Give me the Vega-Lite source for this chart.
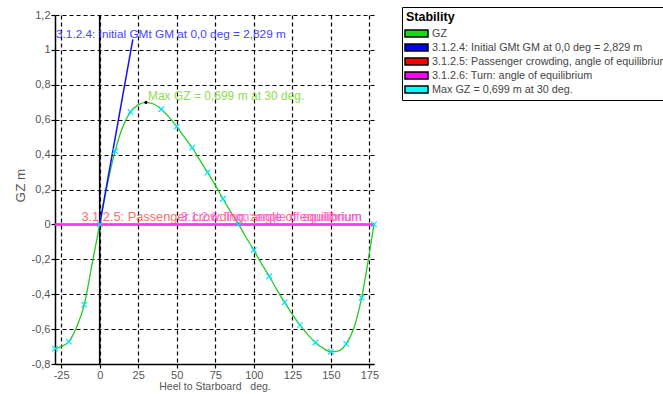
{
  "$schema": "https://vega.github.io/schema/vega-lite/v6.json",
  "width": 319,
  "height": 349,
  "autosize": "none",
  "padding": {"left": 55, "top": 15, "right": 289, "bottom": 30},
  "background": "white",
  "config": {"font": "Liberation Sans", "view": {"stroke": null}},
  "datasets": {
    "gz": [
      {"deg": -29, "gz": -0.712}, {"deg": -25, "gz": -0.7}, {"deg": -20, "gz": -0.672},
      {"deg": -15, "gz": -0.59}, {"deg": -10, "gz": -0.46}, {"deg": -5, "gz": -0.23},
      {"deg": 0, "gz": 0}, {"deg": 5, "gz": 0.23}, {"deg": 10, "gz": 0.42},
      {"deg": 15, "gz": 0.56}, {"deg": 20, "gz": 0.645}, {"deg": 25, "gz": 0.685},
      {"deg": 30, "gz": 0.699}, {"deg": 35, "gz": 0.69}, {"deg": 40, "gz": 0.66},
      {"deg": 45, "gz": 0.615}, {"deg": 50, "gz": 0.56}, {"deg": 55, "gz": 0.5},
      {"deg": 60, "gz": 0.44}, {"deg": 65, "gz": 0.368}, {"deg": 70, "gz": 0.298},
      {"deg": 75, "gz": 0.225}, {"deg": 80, "gz": 0.147}, {"deg": 85, "gz": 0.072},
      {"deg": 90, "gz": 0.003}, {"deg": 95, "gz": -0.075}, {"deg": 100, "gz": -0.147},
      {"deg": 105, "gz": -0.225}, {"deg": 110, "gz": -0.297}, {"deg": 115, "gz": -0.375},
      {"deg": 120, "gz": -0.447}, {"deg": 125, "gz": -0.515}, {"deg": 130, "gz": -0.577},
      {"deg": 135, "gz": -0.632}, {"deg": 140, "gz": -0.677}, {"deg": 145, "gz": -0.71},
      {"deg": 150, "gz": -0.73}, {"deg": 155, "gz": -0.725}, {"deg": 160, "gz": -0.685},
      {"deg": 165, "gz": -0.592}, {"deg": 170, "gz": -0.42}, {"deg": 175, "gz": -0.165},
      {"deg": 178, "gz": 0}
    ],
    "markers": [
      {"deg": -29, "gz": -0.712}, {"deg": -20, "gz": -0.672}, {"deg": -10, "gz": -0.46},
      {"deg": 0, "gz": 0}, {"deg": 10, "gz": 0.42}, {"deg": 20, "gz": 0.645},
      {"deg": 40, "gz": 0.66}, {"deg": 50, "gz": 0.56}, {"deg": 60, "gz": 0.44},
      {"deg": 70, "gz": 0.298}, {"deg": 80, "gz": 0.147}, {"deg": 90, "gz": 0.003},
      {"deg": 100, "gz": -0.147}, {"deg": 110, "gz": -0.297}, {"deg": 120, "gz": -0.447},
      {"deg": 130, "gz": -0.577}, {"deg": 140, "gz": -0.677}, {"deg": 150, "gz": -0.73},
      {"deg": 160, "gz": -0.685}, {"deg": 170, "gz": -0.42}, {"deg": 178, "gz": 0}
    ],
    "peak": [{"deg": 30, "gz": 0.699}],
    "gm": [{"deg": 0, "gz": 0}, {"deg": 21.5, "gz": 1.06}],
    "zero": [{"gz": 0}],
    "vert": [{"deg": 0}],
    "lblGM": [{"deg": -29, "gz": 1.09, "text": "3.1.2.4: Initial GMt GM at 0,0 deg = 2,829 m"}],
    "lblMax": [{"deg": 30, "gz": 0.735, "text": "Max GZ = 0,699 m at 30 deg."}],
    "lblPass": [{"deg": 170, "gz": 0.04, "text": "3.1.2.5: Passenger crowding, angle of equilibrium"}],
    "lblTurn": [{"deg": 170, "gz": 0.04, "text": "3.1.2.6: Turn: angle of equilibrium"}],
    "legend": [
      {"series": "GZ"},
      {"series": "3.1.2.4: Initial GMt GM at 0,0 deg = 2,829 m"},
      {"series": "3.1.2.5: Passenger crowding, angle of equilibrium"},
      {"series": "3.1.2.6: Turn: angle of equilibrium"},
      {"series": "Max GZ = 0,699 m at 30 deg."}
    ]
  },
  "layer": [
    {
      "data": {"name": "vert"},
      "mark": {"type": "rule", "color": "black", "strokeWidth": 1.6},
      "encoding": {"x": {"field": "deg", "type": "quantitative", "scale": {"domain": [-29, 178], "nice": false, "zero": false}}}
    },
    {
      "data": {"name": "zero"},
      "mark": {"type": "rule", "color": "#ff0000", "strokeWidth": 2},
      "encoding": {"y": {"field": "gz", "type": "quantitative", "scale": {"domain": [-0.8, 1.2], "nice": false, "zero": false}}}
    },
    {
      "data": {"name": "zero"},
      "mark": {"type": "rule", "color": "#ff33ff", "strokeWidth": 2},
      "encoding": {"y": {"field": "gz", "type": "quantitative", "scale": {"domain": [-0.8, 1.2], "nice": false, "zero": false}}}
    },
    {
      "data": {"name": "gz"},
      "mark": {"type": "line", "color": "#22cc22", "strokeWidth": 1.3, "interpolate": "monotone"},
      "encoding": {
        "x": {"field": "deg", "type": "quantitative",
          "scale": {"domain": [-29, 178], "nice": false, "zero": false},
          "axis": {"title": "Heel to Starboard \u00a0 deg.", "values": [-25, 0, 25, 50, 75, 100, 125, 150, 175],
            "tickCount": 50, "labelExpr": "'' + datum.value", "labelOverlap": false,
            "grid": true, "gridColor": "black", "gridDash": [4, 3], "gridWidth": 1.2, "gridOpacity": 1,
            "domainColor": "black", "domainWidth": 1.5, "tickColor": "black", "tickSize": 4, "tickWidth": 1.2,
            "labelFontSize": 11, "labelColor": "#555", "labelPadding": 1, "labelFlush": false,
            "titleFontSize": 10.5, "titleFontWeight": "normal", "titleColor": "#555", "titlePadding": 1}},
        "y": {"field": "gz", "type": "quantitative",
          "scale": {"domain": [-0.8, 1.2], "nice": false, "zero": false},
          "axis": {"title": "GZ m", "values": [-0.8, -0.6, -0.4, -0.2, 0, 0.2, 0.4, 0.6, 0.8, 1, 1.2],
            "tickCount": 50, "labelExpr": "replace('' + datum.value, '.', ',')", "labelOverlap": false,
            "grid": true, "gridColor": "black", "gridDash": [4, 3], "gridWidth": 1.2, "gridOpacity": 1,
            "domainColor": "black", "domainWidth": 1.5, "tickColor": "black", "tickSize": 4, "tickWidth": 1.2,
            "labelFontSize": 11, "labelColor": "#555", "labelPadding": 1, "labelFlush": false,
            "titleFontSize": 13.5, "titleFontWeight": "normal", "titleColor": "#555",
            "titleX": -28, "titleY": 170}}
      }
    },
    {
      "data": {"name": "gm"},
      "mark": {"type": "line", "color": "#1010ff", "strokeWidth": 1.5},
      "encoding": {
        "x": {"field": "deg", "type": "quantitative", "scale": {"domain": [-29, 178], "nice": false, "zero": false}},
        "y": {"field": "gz", "type": "quantitative", "scale": {"domain": [-0.8, 1.2], "nice": false, "zero": false}}
      }
    },
    {
      "data": {"name": "markers"},
      "mark": {"type": "point", "shape": "M-1,-1L1,1M-1,1L1,-1", "filled": false, "stroke": "#00e0ff", "strokeWidth": 1.2, "size": 30, "opacity": 1},
      "encoding": {
        "x": {"field": "deg", "type": "quantitative", "scale": {"domain": [-29, 178], "nice": false, "zero": false}},
        "y": {"field": "gz", "type": "quantitative", "scale": {"domain": [-0.8, 1.2], "nice": false, "zero": false}}
      }
    },
    {
      "data": {"name": "peak"},
      "mark": {"type": "point", "shape": "circle", "filled": true, "color": "black", "size": 10, "opacity": 1},
      "encoding": {
        "x": {"field": "deg", "type": "quantitative", "scale": {"domain": [-29, 178], "nice": false, "zero": false}},
        "y": {"field": "gz", "type": "quantitative", "scale": {"domain": [-0.8, 1.2], "nice": false, "zero": false}}
      }
    },
    {
      "data": {"name": "lblGM"},
      "mark": {"type": "text", "align": "left", "baseline": "middle", "dx": 1, "fontSize": 11.8, "color": "#4444ff"},
      "encoding": {
        "x": {"field": "deg", "type": "quantitative", "scale": {"domain": [-29, 178], "nice": false, "zero": false}},
        "y": {"field": "gz", "type": "quantitative", "scale": {"domain": [-0.8, 1.2], "nice": false, "zero": false}},
        "text": {"field": "text"}
      }
    },
    {
      "data": {"name": "lblMax"},
      "mark": {"type": "text", "align": "left", "baseline": "middle", "dx": 2, "fontSize": 12, "color": "#8fdc50"},
      "encoding": {
        "x": {"field": "deg", "type": "quantitative", "scale": {"domain": [-29, 178], "nice": false, "zero": false}},
        "y": {"field": "gz", "type": "quantitative", "scale": {"domain": [-0.8, 1.2], "nice": false, "zero": false}},
        "text": {"field": "text"}
      }
    },
    {
      "data": {"name": "lblPass"},
      "mark": {"type": "text", "align": "right", "baseline": "middle", "fontSize": 12.8, "color": "#ff5a5a", "opacity": 0.9},
      "encoding": {
        "x": {"field": "deg", "type": "quantitative", "scale": {"domain": [-29, 178], "nice": false, "zero": false}},
        "y": {"field": "gz", "type": "quantitative", "scale": {"domain": [-0.8, 1.2], "nice": false, "zero": false}},
        "text": {"field": "text"}
      }
    },
    {
      "data": {"name": "lblTurn"},
      "mark": {"type": "text", "align": "right", "baseline": "middle", "fontSize": 12.2, "color": "#ff4dff", "opacity": 0.85},
      "encoding": {
        "x": {"field": "deg", "type": "quantitative", "scale": {"domain": [-29, 178], "nice": false, "zero": false}},
        "y": {"field": "gz", "type": "quantitative", "scale": {"domain": [-0.8, 1.2], "nice": false, "zero": false}},
        "text": {"field": "text"}
      }
    },
    {
      "data": {"name": "legend"},
      "transform": [{"filter": "false"}],
      "mark": {"type": "square", "filled": true, "opacity": 1},
      "encoding": {
        "fill": {"field": "series", "type": "nominal",
          "scale": {"domain": ["GZ", "3.1.2.4: Initial GMt GM at 0,0 deg = 2,829 m", "3.1.2.5: Passenger crowding, angle of equilibrium", "3.1.2.6: Turn: angle of equilibrium", "Max GZ = 0,699 m at 30 deg."],
            "range": ["#11dd11", "#0000ff", "#ff0000", "#ff00ff", "#00ffff"]},
          "legend": {"title": "Stability", "orient": "none", "legendX": 347, "legendY": -8,
            "titleFontSize": 12.5, "titleFontWeight": "bold", "titleColor": "black", "titlePadding": 4,
            "labelFontSize": 10.8, "labelColor": "#444", "labelLimit": 400, "labelOffset": 14,
            "symbolType": "M-1.4,-0.7H3.2V0.7H-1.4Z", "symbolSize": 100, "symbolOpacity": 1,
            "symbolStrokeColor": "black", "symbolStrokeWidth": 1.5,
            "strokeColor": "black", "fillColor": "white", "padding": 4, "rowPadding": 0,
            "encode": {"symbols": {"update": {"stroke": {"value": "black"}, "strokeWidth": {"value": 1.5}}}}}}
      }
    }
  ]
}
